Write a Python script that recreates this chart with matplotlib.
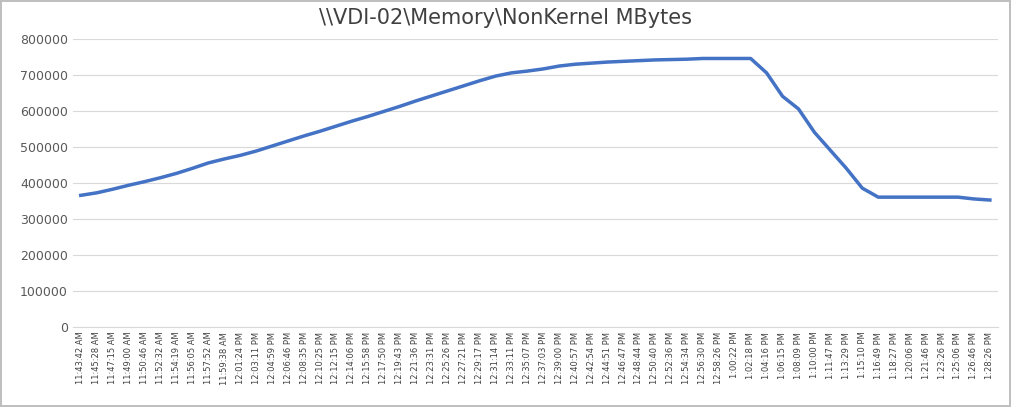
import matplotlib
matplotlib.use("Agg")
import matplotlib.pyplot as plt

labels = ["11:43:42 AM","11:45:28 AM","11:47:15 AM","11:49:00 AM","11:50:46 AM","11:52:32 AM","11:54:19 AM",
"11:56:05 AM","11:57:52 AM","11:59:38 AM","12:01:24 PM","12:03:11 PM","12:04:59 PM","12:06:46 PM","12:08:35 PM",
"12:10:25 PM","12:12:15 PM","12:14:06 PM","12:15:58 PM","12:17:50 PM","12:19:43 PM","12:21:36 PM","12:23:31 PM",
"12:25:26 PM","12:27:21 PM","12:29:17 PM","12:31:14 PM","12:33:11 PM","12:35:07 PM","12:37:03 PM","12:39:00 PM",
"12:40:57 PM","12:42:54 PM","12:44:51 PM","12:46:47 PM","12:48:44 PM","12:50:40 PM","12:52:36 PM","12:54:34 PM",
"12:56:30 PM","12:58:26 PM","1:00:22 PM","1:02:18 PM","1:04:16 PM","1:06:15 PM","1:08:09 PM","1:10:00 PM",
"1:11:47 PM","1:13:29 PM","1:15:10 PM","1:16:49 PM","1:18:27 PM","1:20:06 PM","1:21:46 PM","1:23:26 PM",
"1:25:06 PM","1:26:46 PM","1:28:26 PM"]
values = [365000,372000,382000,393000,403000,414000,426000,440000,455000,466000,476000,488000,502000,516000,
530000,543000,557000,571000,584000,598000,612000,627000,641000,655000,669000,683000,696000,705000,710000,
716000,724000,729000,732000,735000,737000,739000,741000,742000,743000,745000,745000,745000,745000,
705000,640000,605000,540000,490000,440000,385000,360000,360000,360000,360000,360000,360000,355000,352000]

fig = plt.figure(figsize=(10.11, 4.07), dpi=100)
fig.patch.set_edgecolor("#bfbfbf"); fig.patch.set_linewidth(1.5)
ax = fig.add_axes([0.072, 0.197, 0.915, 0.708])
x = list(range(len(values)))
ax.plot(x, values, color="#4472c4", lw=2.5)
ax.set_ylim(0, 800000)
ax.set_yticks(range(0, 800001, 100000))
ax.set_xlim(-0.5, len(values) - 0.5)
ax.set_xticks(x)
ax.set_xticklabels(labels, rotation=90, fontsize=6, color="#404040")
ax.tick_params(axis="y", labelsize=9, colors="#595959", length=0)
ax.tick_params(axis="x", length=0)
ax.grid(axis="y", color="#d9d9d9", lw=0.8)
for s in ["top", "right", "left"]:
    ax.spines[s].set_visible(False)
ax.spines["bottom"].set_color("#d9d9d9")
fig.text(0.5, 0.955, r"\\VDI-02\Memory\NonKernel MBytes", ha="center", va="center", fontsize=15, color="#404040")
fig.savefig("out.png", dpi=100, edgecolor=fig.get_edgecolor())
